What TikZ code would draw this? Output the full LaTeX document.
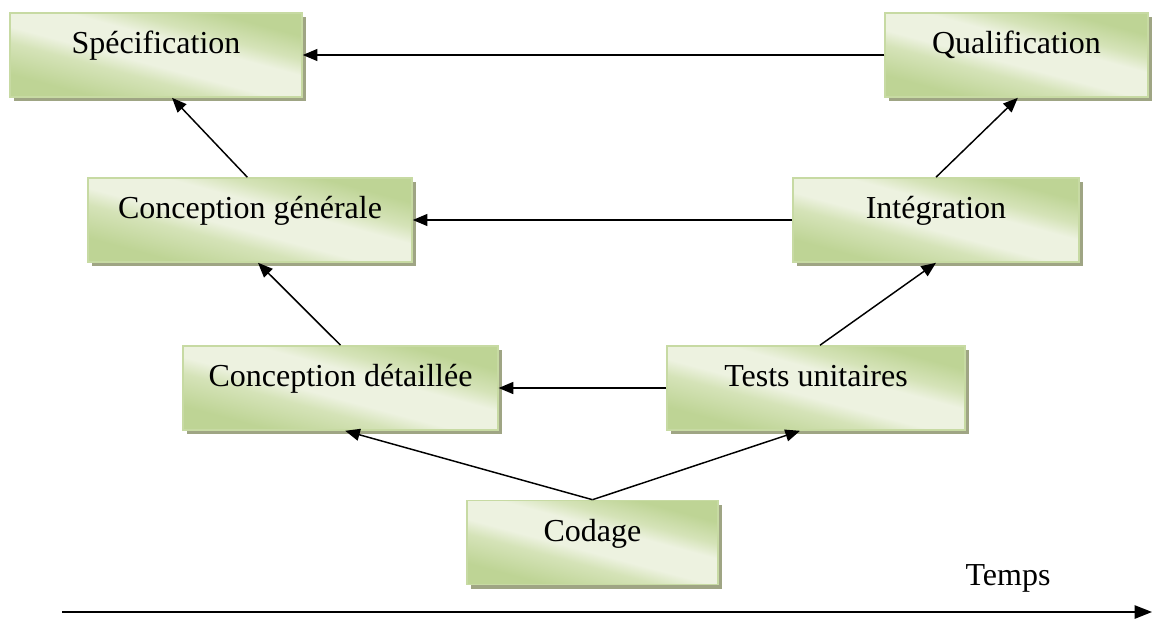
\documentclass[tikz,border=0pt]{standalone}
\usepackage{fontspec}
\setmainfont{Liberation Serif}
\usetikzlibrary{arrows.meta,shadows}
\definecolor{gdark}{HTML}{BED495}
\definecolor{gmid}{HTML}{D5E3B8}
\definecolor{glight}{HTML}{EDF2E0}
\definecolor{gedge}{HTML}{C7DAA3}
\definecolor{gshadow}{HTML}{9FA584}
\pgfdeclareverticalshading{boxshade}{100bp}{%
  color(0bp)=(gdark); color(28bp)=(gdark); color(40bp)=(gmid); color(46bp)=(glight);
  color(57bp)=(glight); color(63bp)=(gmid); color(72bp)=(gdark); color(100bp)=(gdark)}
\tikzset{
  phase/.style={draw=gedge, line width=1.2pt, shading=boxshade, shading angle=-15,
    minimum height=63pt, text height=16pt, text depth=18pt, inner sep=0pt,
    font=\fontsize{24}{28}\selectfont,
    drop shadow={shadow xshift=3pt, shadow yshift=-3pt, fill=gshadow, opacity=1}},
  flow/.style={line width=1.1pt, -{Triangle[length=11pt,width=9pt]}},
}
\begin{document}
\begin{tikzpicture}[x=0.75pt,y=-0.75pt]
\useasboundingbox (0,0) rectangle (1163,618);
% phases of the V cycle
\node[phase, minimum width=219pt] (spec) at (156,55) {Spécification};
\node[phase, minimum width=197pt] (qual) at (1016.5,55) {Qualification};
\node[phase, minimum width=243pt] (cg) at (250,220) {Conception générale};
\node[phase, minimum width=214.5pt] (integ) at (936,220) {Intégration};
\node[phase, minimum width=236pt] (cd) at (340.5,388) {Conception détaillée};
\node[phase, minimum width=223.5pt] (tu) at (816,388) {Tests unitaires};
\node[phase, minimum width=188pt] (cod) at (592.5,542.5) {Codage};
% horizontal links from validation to design
\draw[flow] (qual.west) -- (spec.east);
\draw[flow] (integ.west) -- (cg.east);
\draw[flow] (tu.west) -- (cd.east);
% rising links
\draw[flow] ([xshift=-2pt]cg.north) -- ([xshift=12pt]spec.south);
\draw[flow] (integ.north) -- ([xshift=1pt]qual.south);
\draw[flow] (cd.north) -- ([xshift=6pt]cg.south);
\draw[flow] ([xshift=3pt]tu.north) -- (integ.south);
\draw[flow] (cod.north) -- ([xshift=3.5pt]cd.south);
\draw[flow] (cod.north) -- ([xshift=-12pt]tu.south);
% time axis
\coordinate (t0) at (62,612);
\coordinate (t1) at (1152,612);
\draw[line width=1.1pt, -{Triangle[length=13pt,width=10pt]}] (t0) -- (t1);
\node[font=\fontsize{24}{28}\selectfont] (temps) at (1008,578) {Temps};
\end{tikzpicture}
\end{document}
